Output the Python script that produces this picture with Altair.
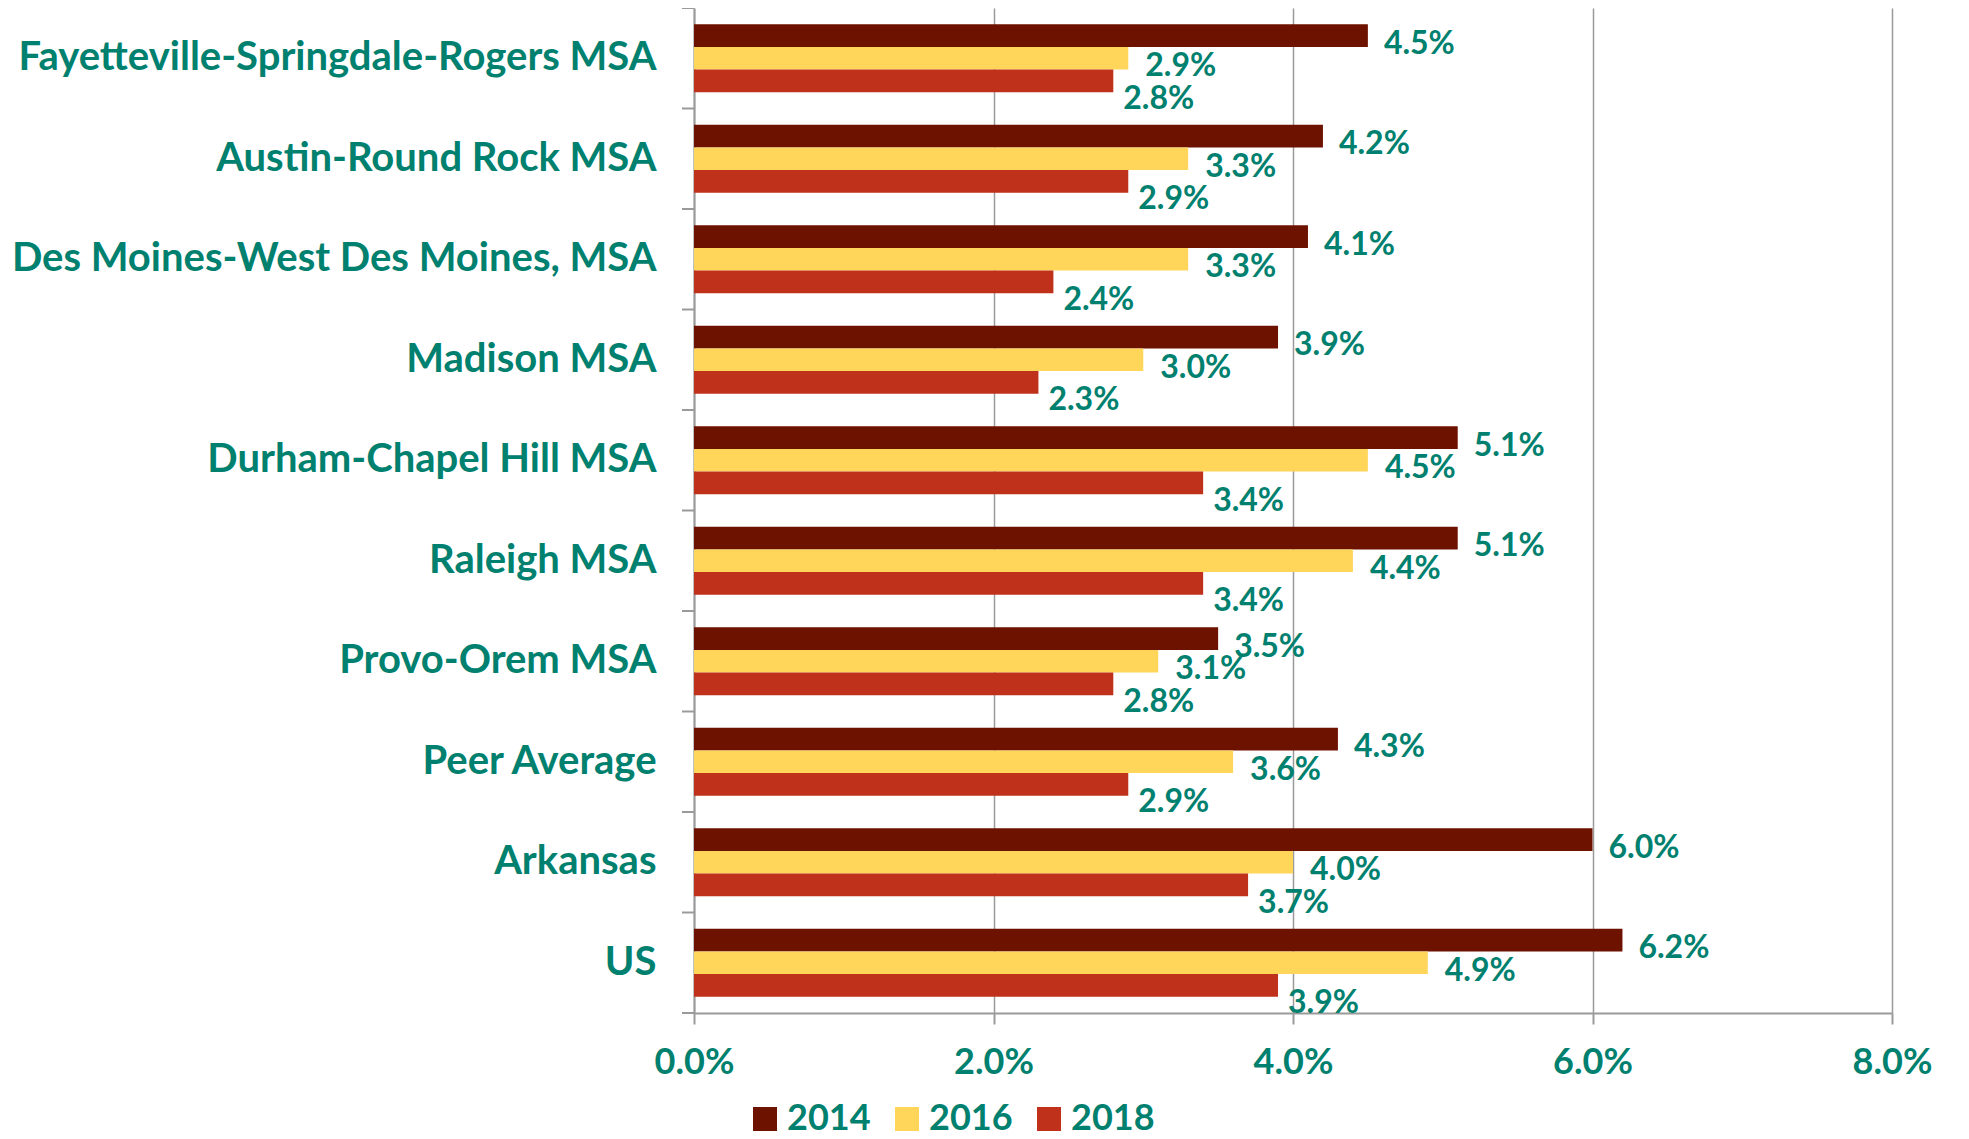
import altair as alt
import pandas as pd

categories = [
    "Fayetteville-Springdale-Rogers MSA",
    "Austin-Round Rock MSA",
    "Des Moines-West Des Moines, MSA",
    "Madison MSA",
    "Durham-Chapel Hill MSA",
    "Raleigh MSA",
    "Provo-Orem MSA",
    "Peer Average",
    "Arkansas",
    "US",
]
years = ["2014", "2016", "2018"]
v2014 = [4.5, 4.2, 4.1, 3.9, 5.1, 5.1, 3.5, 4.3, 6.0, 6.2]
v2016 = [2.9, 3.3, 3.3, 3.0, 4.5, 4.4, 3.1, 3.6, 4.0, 4.9]
v2018 = [2.8, 2.9, 2.4, 2.3, 3.4, 3.4, 2.8, 2.9, 3.7, 3.9]
x_ticks = [0, 2, 4, 6, 8]
colors = ["#6E1200", "#FFD55A", "#C0311B"]

TEAL = "#00806E"
GREY = "#9a9a9a"
FONT = "Lato"
W, H = 1198, 1005
P_INNER = 0.325

rows = []
for i, c in enumerate(categories):
    for yr, vals in zip(years, [v2014, v2016, v2018]):
        rows.append({"category": c, "year": yr, "value": vals[i],
                     "label": f"{vals[i]:.1f}%"})
df = pd.DataFrame(rows)
df_cat = pd.DataFrame({"category": categories})

y_enc = alt.Y(
    "category:N",
    sort=categories,
    scale=alt.Scale(domain=categories, paddingInner=P_INNER, paddingOuter=P_INNER / 2),
    axis=alt.Axis(
        title=None, ticks=False, labelPadding=38, labelFont=FONT,
        labelFontSize=40, labelFontWeight="bold", labelColor=TEAL,
        domainColor=GREY, domainWidth=2, labelLimit=900,
    ),
)
yoff_enc = alt.YOffset("year:N", sort=years,
                       scale=alt.Scale(domain=years, paddingInner=0, paddingOuter=0))
x_enc = alt.X(
    "value:Q",
    scale=alt.Scale(domain=[0, 8], nice=False, zero=True),
    axis=alt.Axis(
        values=x_ticks, title=None,
        labelExpr="format(datum.value, '.1f') + '%'",
        grid=True, gridColor=GREY, gridWidth=1.5,
        tickColor=GREY, tickSize=11, tickWidth=2,
        domainColor=GREY, domainWidth=2,
        labelFont=FONT, labelFontSize=36, labelFontWeight="bold",
        labelColor=TEAL, labelPadding=21, labelFlush=False, labelOverlap=False,
    ),
)

bars = alt.Chart(df).mark_bar(opacity=1).encode(
    x=x_enc,
    y=y_enc,
    yOffset=yoff_enc,
    color=alt.Color(
        "year:N",
        scale=alt.Scale(domain=years, range=colors),
        legend=alt.Legend(
            title=None, orient="none", direction="horizontal",
            legendX=53, legendY=1093,
            symbolType="square", symbolSize=576, symbolStrokeWidth=0,
            symbolOpacity=1,
            labelFont=FONT, labelFontSize=36, labelFontWeight="bold",
            labelColor=TEAL, labelOffset=4, columnPadding=18,
        ),
    ),
)

# category separator ticks at step boundaries (left of the y axis)
step = H / len(categories)
ticks = alt.Chart(df_cat).mark_rule(
    color=GREY, strokeWidth=2, yOffset=-(P_INNER / 2) * step
).encode(
    y=alt.Y("category:N", sort=categories, bandPosition=0),
    x=alt.value(-12),
    x2=alt.value(0),
)
bottom_tick = alt.Chart(df_cat.head(1)).mark_rule(color=GREY, strokeWidth=2).encode(
    y=alt.value(H), x=alt.value(-12), x2=alt.value(0)
)

label_layers = []
for yr, dx, dy in [("2014", 16, 8), ("2016", 17, 8), ("2018", 10, 18)]:
    label_layers.append(
        alt.Chart(df).transform_filter(alt.datum.year == yr).mark_text(
            align="left", baseline="middle", dx=dx, dy=dy,
            font=FONT, fontSize=32, fontWeight="bold", color=TEAL,
        ).encode(
            x="value:Q",
            y=alt.Y("category:N", sort=categories),
            yOffset=alt.YOffset("year:N", sort=years),
            text="label:N",
        )
    )

chart = alt.layer(bars, ticks, bottom_tick, *label_layers).properties(
    width=W, height=H,
    autosize=alt.AutoSizeParams(type="none"),
    padding={"left": 686, "top": 0, "right": 60, "bottom": 126},
).configure_view(stroke=None).configure_axis(labelFontWeight="bold")

chart.save("out.html", embed_options={"renderer": "svg", "actions": False})
